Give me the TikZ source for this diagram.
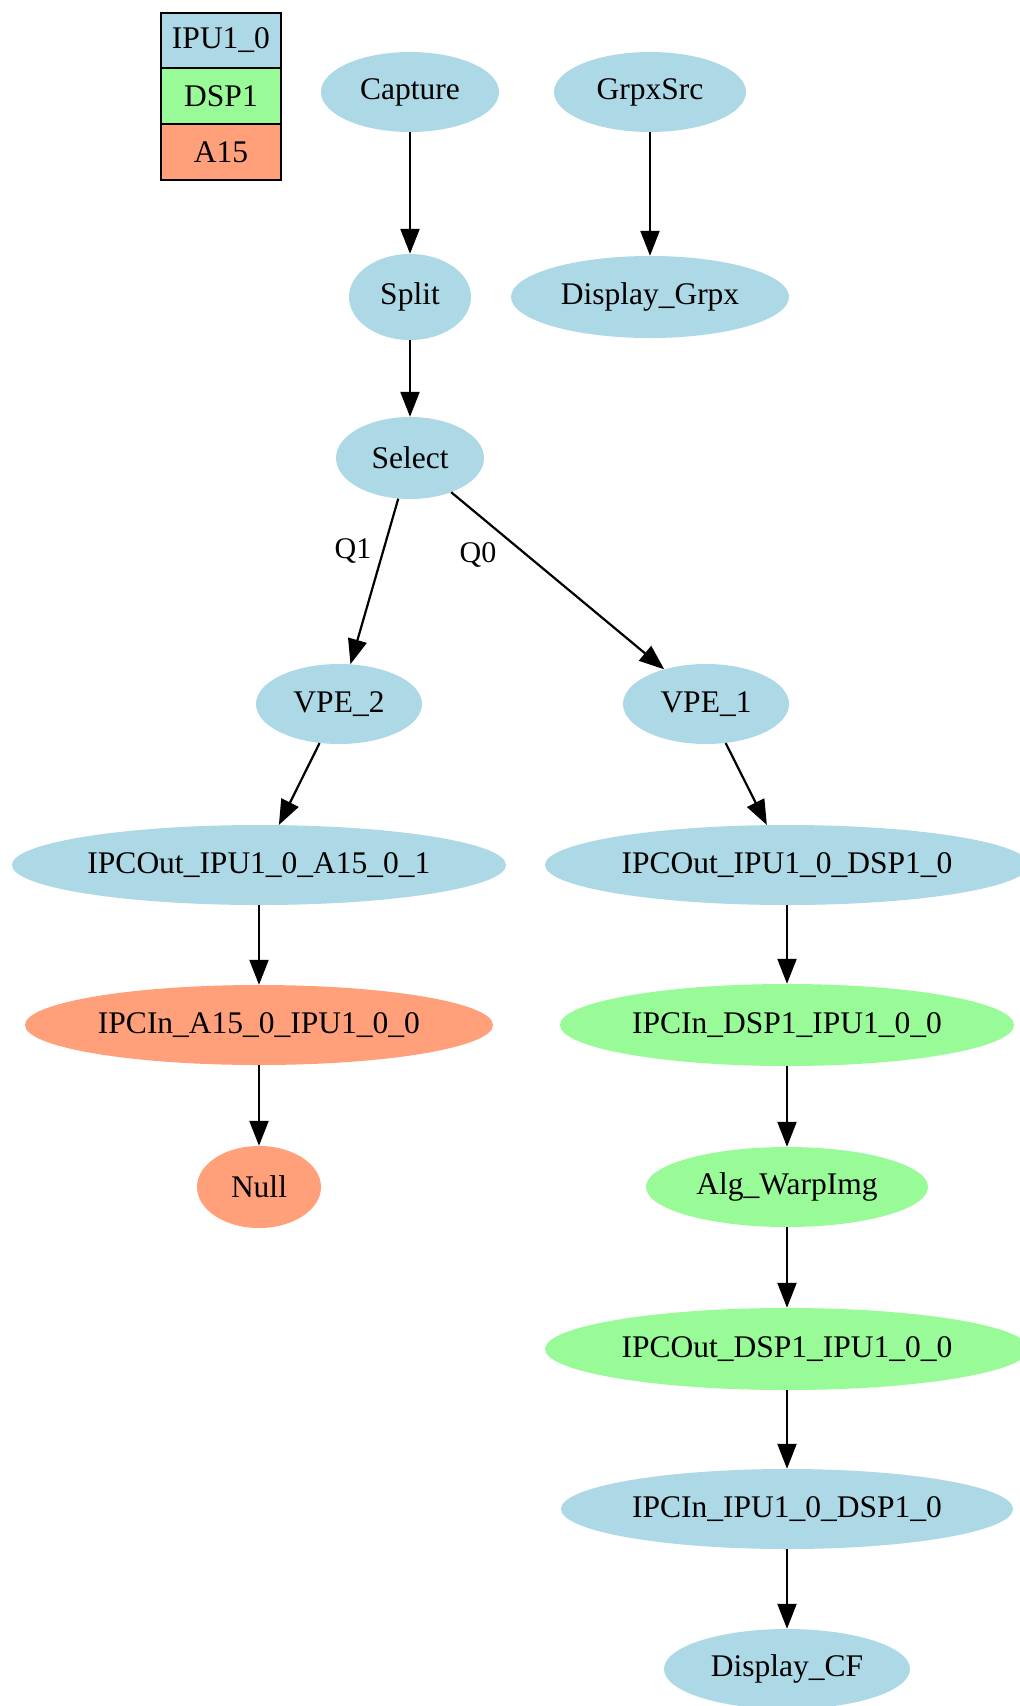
\documentclass[tikz,border=0pt]{standalone}
\usepackage{fontspec}
\setmainfont{Liberation Serif}
\usetikzlibrary{shapes.geometric,arrows.meta}
\definecolor{ipublue}{HTML}{ADD8E6}
\definecolor{dspgreen}{HTML}{98FB98}
\definecolor{asalmon}{HTML}{FFA07A}
\tikzset{
  gnode/.style={ellipse, inner sep=0pt, font=\fontsize{31.5}{36}\selectfont, text=black},
  ipu/.style={gnode, fill=ipublue},
  dsp/.style={gnode, fill=dspgreen},
  afif/.style={gnode, fill=asalmon},
  legbox/.style={rectangle, draw=black, line width=2.4pt, inner sep=0pt,
     minimum width=120pt, minimum height=56pt, font=\fontsize{31.5}{36}\selectfont},
  conn/.style={draw=black, line width=2.2pt, -{Triangle[length=25pt,width=19pt]}},
  elabel/.style={inner sep=0pt, font=\fontsize{30}{34}\selectfont}
}
\begin{document}
\begin{tikzpicture}[x=1pt,y=-1pt]
\useasboundingbox (0,0) rectangle (1020,1706);
\fill[white] (0,0) rectangle (1020,1706);
% legend
\node[legbox, fill=ipublue, minimum height=55pt] (legipu) at (221,40.5) {IPU1\_0};
\node[legbox, fill=dspgreen] (legdsp) at (221,96) {DSP1};
\node[legbox, fill=asalmon] (legafif) at (221,152) {A15};
% nodes
\node[ipu, minimum width=178pt, minimum height=80pt] (cap) at (410,92) {Capture};
\node[ipu, minimum width=192pt, minimum height=80pt] (grpx) at (650,92) {GrpxSrc};
\node[ipu, minimum width=122pt, minimum height=86pt] (split) at (410,297) {Split};
\node[ipu, minimum width=278pt, minimum height=82pt] (dgrpx) at (650,297) {Display\_Grpx};
\node[ipu, minimum width=148pt, minimum height=82pt] (sel) at (410,458) {Select};
\node[ipu, minimum width=166pt, minimum height=80pt] (vpe2) at (339,704) {VPE\_2};
\node[ipu, minimum width=166pt, minimum height=80pt] (vpe1) at (706,704) {VPE\_1};
\node[ipu, minimum width=494pt, minimum height=80pt] (ipcoA) at (259,865) {IPCOut\_IPU1\_0\_A15\_0\_1};
\node[ipu, minimum width=484pt, minimum height=80pt] (ipcoD) at (787,865) {IPCOut\_IPU1\_0\_DSP1\_0};
\node[afif, minimum width=468pt, minimum height=80pt] (ipciA) at (259,1025) {IPCIn\_A15\_0\_IPU1\_0\_0};
\node[dsp, minimum width=454pt, minimum height=82pt] (ipciD) at (787,1025) {IPCIn\_DSP1\_IPU1\_0\_0};
\node[afif, minimum width=124pt, minimum height=82pt] (null) at (259,1187) {Null};
\node[dsp, minimum width=282pt, minimum height=80pt] (alg) at (787,1187) {Alg\_WarpImg};
\node[dsp, minimum width=484pt, minimum height=82pt] (ipcoDD) at (787,1349) {IPCOut\_DSP1\_IPU1\_0\_0};
\node[ipu, minimum width=452pt, minimum height=80pt] (ipciI) at (787,1509) {IPCIn\_IPU1\_0\_DSP1\_0};
\node[ipu, minimum width=246pt, minimum height=80pt] (dcf) at (787,1669) {Display\_CF};
% edge labels
\node[elabel] (lq1) at (353,551) {Q1};
\node[elabel] (lq0) at (478,555) {Q0};
% connectors
\draw[conn] (cap) -- (split);
\draw[conn] (grpx) -- (dgrpx);
\draw[conn] (split) -- (sel);
\draw[conn] (sel) -- (vpe2);
\draw[conn] (sel) -- (vpe1);
\draw[conn] (vpe2) -- (ipcoA);
\draw[conn] (vpe1) -- (ipcoD);
\draw[conn] (ipcoA) -- (ipciA);
\draw[conn] (ipciA) -- (null);
\draw[conn] (ipcoD) -- (ipciD);
\draw[conn] (ipciD) -- (alg);
\draw[conn] (alg) -- (ipcoDD);
\draw[conn] (ipcoDD) -- (ipciI);
\draw[conn] (ipciI) -- (dcf);
\end{tikzpicture}
\end{document}
